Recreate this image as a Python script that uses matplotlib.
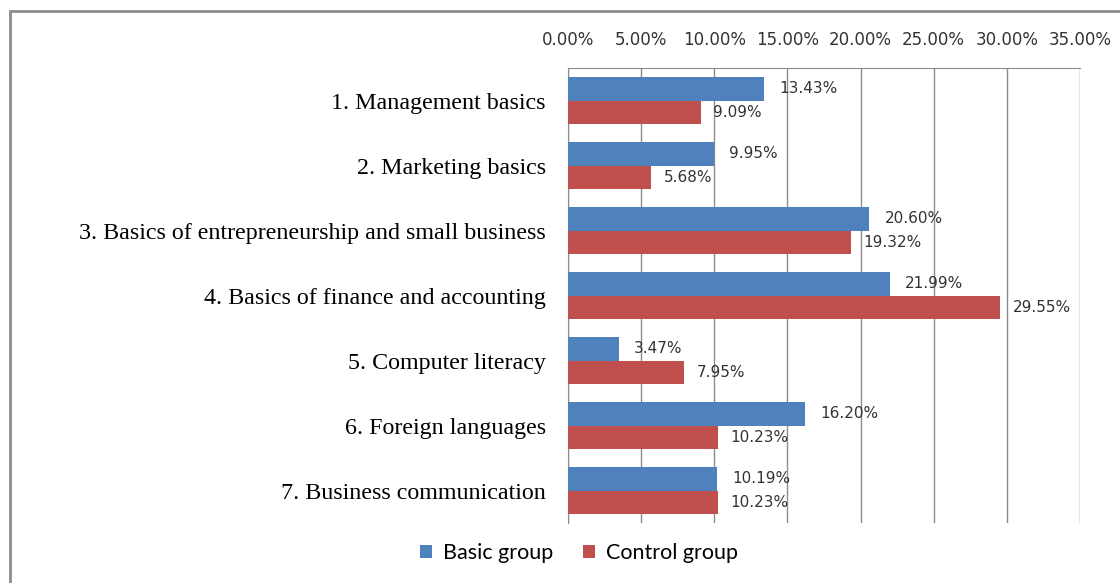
import matplotlib
matplotlib.use("Agg")
import matplotlib.pyplot as plt
from matplotlib.patches import Rectangle
import numpy as np

categories = ["1. Management basics", "2. Marketing basics",
              "3. Basics of entrepreneurship and small business",
              "4. Basics of finance and accounting", "5. Computer literacy",
              "6. Foreign languages", "7. Business communication"]
basic = [13.43, 9.95, 20.60, 21.99, 3.47, 16.20, 10.19]
control = [9.09, 5.68, 19.32, 29.55, 7.95, 10.23, 10.23]
xticks = [0, 5, 10, 15, 20, 25, 30, 35]

blue = "#4F81BD"
red = "#C0504D"

fig = plt.figure(figsize=(11.2, 5.83), dpi=100)
ax = fig.add_axes([568/1120, 1-523/583, (1080-568)/1120, (523-68)/583])

n = len(categories)
y = np.arange(n)
h = 0.36
ax.barh(y - h/2, basic, height=h, color=blue, label="Basic group", zorder=3)
ax.barh(y + h/2, control, height=h, color=red, label="Control group", zorder=3)

for yi, v in zip(y, basic):
    ax.annotate(f"{v:.2f}%", (v, yi - h/2), xytext=(11, 0), textcoords="offset points",
                va="center", ha="left", fontsize=11, family="DejaVu Sans", color="#333")
for yi, v in zip(y, control):
    ax.annotate(f"{v:.2f}%", (v, yi + h/2), xytext=(9, 0), textcoords="offset points",
                va="center", ha="left", fontsize=11, family="DejaVu Sans", color="#333")

ax.set_xlim(0, 35)
ax.set_ylim(n - 0.5, -0.5)
ax.set_xticks(xticks)
ax.set_xticklabels([f"{t:.2f}%" for t in xticks], family="DejaVu Sans", fontsize=12, color="#333")
ax.xaxis.tick_top()
ax.tick_params(axis="x", length=0, pad=14)
ax.set_yticks(y)
ax.set_yticklabels(categories, family="Liberation Serif", fontsize=17.3)
ax.tick_params(axis="y", length=0, pad=16)
ax.grid(axis="x", color="#8C8C8C", linewidth=1, zorder=0)
for s in ["right", "bottom"]:
    ax.spines[s].set_visible(False)
ax.spines["left"].set_color("#8C8C8C")
ax.spines["top"].set_color("#8C8C8C")

leg = fig.legend(loc="center", bbox_to_anchor=(579/1120, 1-553/583), ncol=2, frameon=False,
                 prop={"family": "Lato", "size": 15.5}, handlelength=0.55, handleheight=0.55,
                 columnspacing=1.4, handletextpad=0.5)

fig.patches.append(Rectangle((10/1120, -0.1), 1.2, 1 - 11/583 + 0.1, transform=fig.transFigure,
                             fill=False, edgecolor="#8C8C8C", linewidth=2))

fig.savefig("out.png", dpi=100)
